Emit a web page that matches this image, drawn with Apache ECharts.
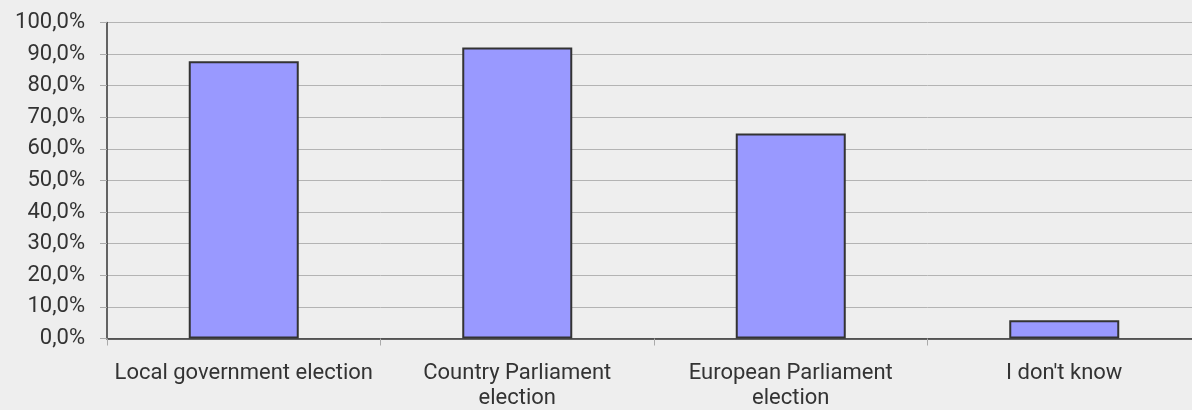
<!DOCTYPE html>
<html>
<head>
<meta charset="utf-8">
<script src="https://cdn.jsdelivr.net/npm/echarts@6/dist/echarts.min.js"></script>
<style>
html,body{margin:0;padding:0;background:#eeeeee;overflow:hidden;}
#c{width:1220px;height:410px;}
</style>
</head>
<body>
<div id="c"></div>
<script>
const categories = ['Local government election', 'Country Parliament\nelection', 'European Parliament\nelection', "I don't know"];
const values = [87.7, 92.1, 64.9, 5.8];
const yTicks = [0, 10, 20, 30, 40, 50, 60, 70, 80, 90, 100];

const chart = echarts.init(document.getElementById('c'), null, {renderer: 'canvas'});
chart.setOption({
  backgroundColor: '#eeeeee',
  animation: false,
  grid: {left: 107, top: 22.5, width: 1094, height: 316, containLabel: false, outerBoundsMode: 'none'},
  xAxis: {
    type: 'category',
    data: categories,
    axisLine: {lineStyle: {color: '#333333', width: 1.5}},
    axisTick: {show: true, length: 7, lineStyle: {color: '#aaaaaa'}},
    axisLabel: {color: '#333333', fontSize: 22, fontFamily: 'Roboto', margin: 22, lineHeight: 25, interval: 0}
  },
  yAxis: {
    type: 'value',
    min: yTicks[0],
    max: yTicks[yTicks.length - 1],
    interval: 10,
    axisLine: {show: true, lineStyle: {color: '#333333', width: 1.5}},
    axisTick: {show: true, length: 7, lineStyle: {color: '#aaaaaa'}},
    splitLine: {show: true, lineStyle: {color: '#b3b3b3', width: 1}},
    axisLabel: {
      color: '#333333', fontSize: 22, fontFamily: 'Roboto', margin: 22,
      formatter: v => v.toFixed(1).replace('.', ',') + '%'
    }
  },
  series: [{
    type: 'bar',
    data: values,
    barWidth: 110,
    itemStyle: {color: '#9999ff', borderColor: '#333333', borderWidth: 2}
  }]
});
</script>
</body>
</html>
